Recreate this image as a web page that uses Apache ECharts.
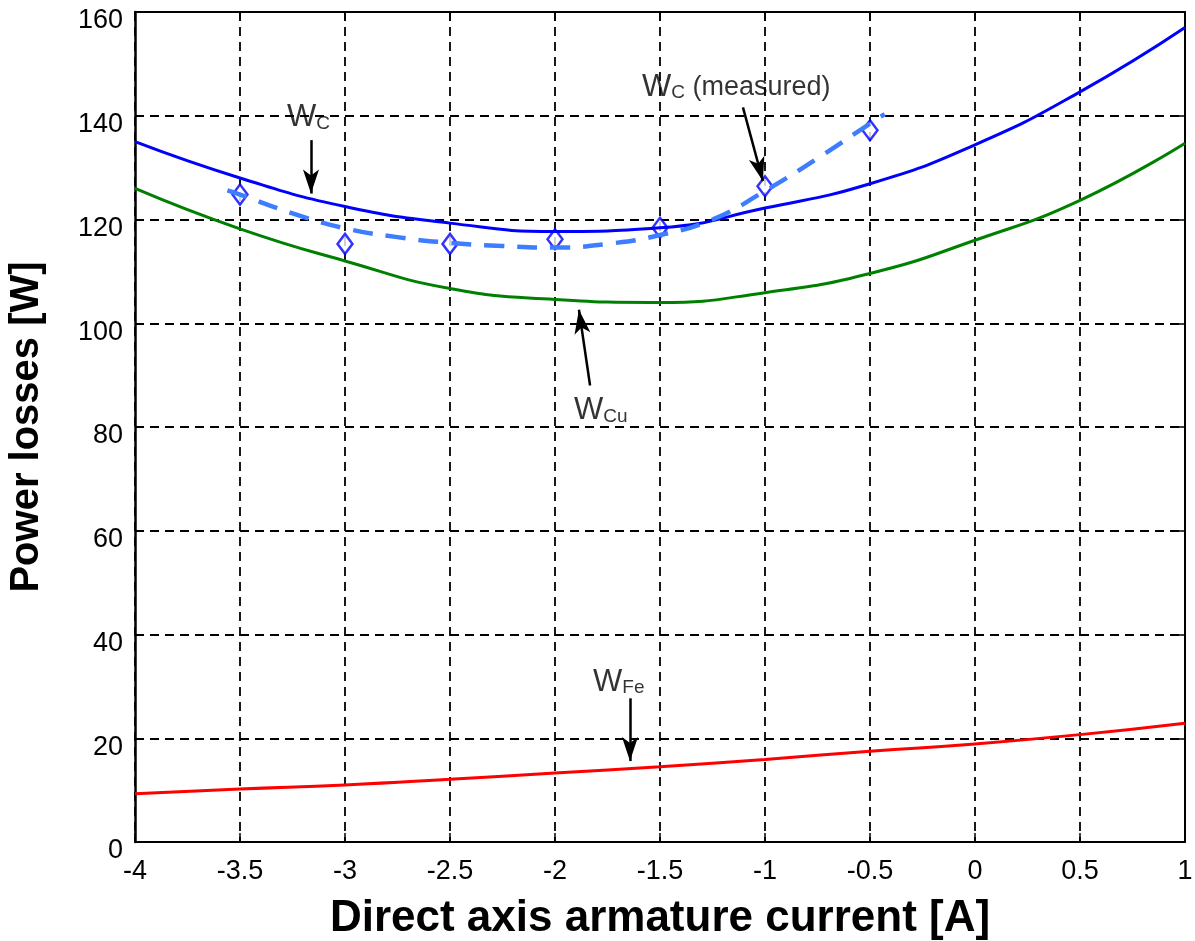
<!DOCTYPE html>
<html>
<head>
<meta charset="utf-8">
<script src="https://cdn.jsdelivr.net/npm/echarts@6/dist/echarts.min.js"></script>
<style>
  html, body { margin: 0; padding: 0; background: #fff; }
  #chart { width: 1195px; height: 941px; }
</style>
</head>
<body>
<div id="chart"></div>
<script>
"use strict";

// values
var xCalc = [-4, -3.5, -3, -2.5, -2, -1.5, -1, -0.5, 0, 0.5, 1];
var wC = [135, 128, 122.5, 119.3, 117.7, 118.4, 122.2, 126.9, 134.4, 144.6, 157];
var wCu = [126, 118.2, 112, 106.7, 104.6, 104, 105.9, 109.6, 116, 123.7, 134.7];
var wFe = [9.3, 10.2, 11, 12.1, 13.3, 14.5, 15.9, 17.5, 18.9, 20.7, 22.9];

var xMeas = [-3.5, -3, -2.5, -2, -1.5, -1, -0.5];
var wMeas = [124.8, 115.3, 115.3, 116.2, 118.4, 126.4, 137.2];

var xFit = [-3.56, -3.5, -3.25, -3, -2.75, -2.5, -2.25, -2, -1.75, -1.5, -1.25, -1, -0.75, -0.5, -0.43];
var wFit = [125.6, 124.8, 121.2, 118.3, 116.6, 115.5, 114.9, 114.6, 115.3, 117, 120, 125.5, 131.8, 138.5, 140.3];

var yTicks = [0, 20, 40, 60, 80, 100, 120, 140, 160];

// annotation texts and arrows (data coordinates)
var notes = [
    { pos: [-3.276, 139.7], text: "{w|W}{s|C}" },
    { pos: [-1.586, 145.5], text: "{w|W}{s|C}{m| (measured)}" },
    { pos: [-1.91, 83.2], text: "{w|W}{s|Cu}" },
    { pos: [-1.819, 30.8], text: "{w|W}{s|Fe}" }
];
var arrows = [
    [[-3.162, 135.3], [-3.162, 125.0]],
    [[-1.105, 141.6], [-1.01, 127.4]],
    [[-1.833, 88.0], [-1.886, 102.6]],
    [[-1.643, 27.7], [-1.643, 15.6]]
];

var font = "Liberation Sans, Arial, sans-serif";
var chart = echarts.init(document.getElementById("chart"));

function pairs(xs, ys) {
    return xs.map(function(x, i) { return [x, ys[i]]; });
}

var gridDash = { color: "#000", width: 1.8, type: [9, 6] };

var option = {
    backgroundColor: "#fff",
    animation: false,
    grid: { left: 135, right: 10, top: 12, bottom: 99, containLabel: false, outerBoundsMode: "none" },
    xAxis: [{
        type: "value", min: -4, max: 1, interval: 0.5,
        name: "Direct axis armature current [A]", nameLocation: "middle", nameGap: 55,
        nameTextStyle: { fontFamily: font, fontWeight: "bold", fontSize: 44, color: "#000" },
        axisLine: { onZero: false, lineStyle: { color: "#000", width: 2 } },
        axisTick: { inside: true, length: 9, lineStyle: { color: "#000", width: 1.5 } },
        axisLabel: { fontFamily: font, fontSize: 27, color: "#000", margin: 16 },
        splitLine: { show: true, lineStyle: gridDash }
    }, {
        type: "value", min: -4, max: 1, interval: 0.5, position: "top",
        axisLine: { onZero: false, lineStyle: { color: "#000", width: 2 } },
        axisTick: { inside: true, length: 9, lineStyle: { color: "#000", width: 1.5 } },
        axisLabel: { show: false }, splitLine: { show: false }
    }],
    yAxis: [{
        type: "value", min: 0, max: 160, interval: 20,
        name: "Power losses [W]", nameLocation: "middle", nameGap: 88,
        nameTextStyle: { fontFamily: font, fontWeight: "bold", fontSize: 40, color: "#000" },
        axisLine: { show: true, onZero: false, lineStyle: { color: "#000", width: 2.5 } },
        axisTick: { show: true, inside: true, length: 9, lineStyle: { color: "#000", width: 1.5 } },
        axisLabel: { fontFamily: font, fontSize: 27, color: "#000", margin: 12,
            verticalAlign: "top", lineHeight: 18,
            formatter: function(v) { return yTicks.indexOf(v) >= 0 ? String(v) : ""; } },
        splitLine: { show: true, lineStyle: gridDash }
    }, {
        type: "value", min: 0, max: 160, interval: 20, position: "right",
        axisLine: { show: true, onZero: false, lineStyle: { color: "#000", width: 2 } },
        axisTick: { show: true, inside: true, length: 9, lineStyle: { color: "#000", width: 1.5 } },
        axisLabel: { show: false }, splitLine: { show: false }
    }],
    series: [{
        name: "W_Fe", type: "line", data: pairs(xCalc, wFe), smooth: true,
        showSymbol: false, lineStyle: { color: "#ff0000", width: 3 }
    }, {
        name: "W_Cu", type: "line", data: pairs(xCalc, wCu), smooth: true,
        showSymbol: false, lineStyle: { color: "#008000", width: 3 }
    }, {
        name: "W_C", type: "line", data: pairs(xCalc, wC), smooth: true,
        showSymbol: false, lineStyle: { color: "#0000ff", width: 3 }
    }, {
        name: "W_C fit", type: "line", data: pairs(xFit, wFit), smooth: true,
        showSymbol: false, lineStyle: { color: "#3d7dff", width: 4.5, type: [20, 13] }
    }, {
        name: "W_C measured", type: "scatter", data: pairs(xMeas, wMeas),
        symbol: "diamond", symbolSize: [15, 20],
        itemStyle: { color: "#fff", borderColor: "#0000ff", borderWidth: 2.5 }
    }, {
        name: "notes", type: "scatter", symbolSize: 0, silent: true,
        data: notes.map(function(n) {
            return { value: n.pos, label: { formatter: n.text } };
        }),
        label: {
            show: true, position: "right", distance: 0, color: "#000",
            rich: {
                w: { fontFamily: font, fontSize: 31, color: "#000" },
                s: { fontFamily: font, fontSize: 19, color: "#000", padding: [12, 0, 0, 0] },
                m: { fontFamily: font, fontSize: 27, color: "#000" }
            }
        },
        markLine: {
            silent: true, animation: false,
            symbol: ["none", "arrow"], symbolSize: [12, 24],
            label: { show: false },
            lineStyle: { color: "#000", width: 2.5, type: "solid" },
            data: arrows.map(function(a) {
                return [{ coord: a[0] }, { coord: a[1] }];
            })
        }
    }]
};

chart.setOption(option);
</script>
</body>
</html>
